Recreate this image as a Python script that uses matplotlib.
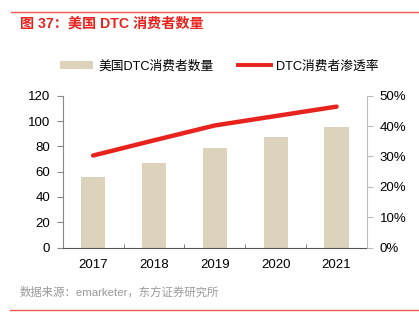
import matplotlib
matplotlib.use("Agg")
import matplotlib.pyplot as plt
from matplotlib.patches import Patch
from matplotlib.lines import Line2D
from matplotlib.ticker import FixedLocator, FuncFormatter

plt.rcParams['font.family'] = ['Liberation Sans', 'Noto Sans CJK SC', 'DejaVu Sans']

# 数据
years = ['2017', '2018', '2019', '2020', '2021']
dtc_users = [56, 67, 79, 87, 95]              # 美国DTC消费者数量
dtc_penetration = [30.3, 35.3, 40.2, 43.3, 46.4]  # DTC消费者渗透率 (%)
left_ticks = [0, 20, 40, 60, 80, 100, 120]
right_ticks = [0, 10, 20, 30, 40, 50]

RED = '#E8231E'
BAR = '#DDD3BC'

fig = plt.figure(figsize=(4.19, 3.31), dpi=100)
W, H = 419, 331

# 顶部/底部红线
fig.add_artist(Line2D([11 / W, 1], [1 - 12 / H, 1 - 12 / H], color='#EE5A52', lw=1.0))
fig.add_artist(Line2D([10 / W, 1], [1 - 310 / H, 1 - 310 / H], color='#EE5A52', lw=1.0))

fig.text(20 / W, 1 - 23.5 / H, '图 37：美国 DTC 消费者数量', color=RED, fontsize=10.2,
         fontweight='bold', va='center', ha='left')
fig.text(20 / W, 1 - 292 / H, '数据来源：emarketer，东方证券研究所', color='#999999',
         fontsize=8.2, va='center', ha='left')

ax = fig.add_axes([62.7 / W, 1 - 247.5 / H, (367 - 62.7) / W, (247.5 - 95.7) / H])
x = list(range(len(years)))
ax.bar(x, dtc_users, width=0.4, color=BAR, zorder=2)
ax.set_xlim(-0.5, len(years) - 0.5)
ax.set_ylim(0, 120)
ax.set_yticks(left_ticks)
ax.xaxis.set_major_locator(FixedLocator(x))
ax.set_xticklabels(years)
ax.xaxis.set_minor_locator(FixedLocator([i + 0.5 for i in x[:-1]]))
ax.tick_params(axis='x', which='major', length=0, pad=8, labelsize=9.5)
ax.tick_params(axis='x', which='minor', direction='in', length=3, color='#666666')
ax.tick_params(axis='y', length=4, color='#888888', pad=5, labelsize=9.5)
ax.spines['top'].set_visible(False)
ax.spines['right'].set_visible(False)
ax.spines['left'].set_color('#888888')
ax.spines['bottom'].set_color('#555555')

ax2 = ax.twinx()
ax2.plot(x, dtc_penetration, color=RED, lw=3.2, solid_capstyle='round', zorder=3)
ax2.set_ylim(0, 50)
ax2.set_yticks(right_ticks)
ax2.yaxis.set_major_formatter(FuncFormatter(lambda v, p: f'{v:.0f}%'))
ax2.tick_params(axis='y', length=4, color='#BBBBBB', pad=5, labelsize=9.5)
ax2.spines['top'].set_visible(False)
ax2.spines['left'].set_visible(False)
ax2.spines['bottom'].set_visible(False)
ax2.spines['right'].set_color('#BBBBBB')

handles = [Patch(facecolor=BAR, edgecolor='none'), Line2D([], [], color=RED, lw=2.8)]
fig.legend(handles, ['美国DTC消费者数量', 'DTC消费者渗透率'], loc='center',
           bbox_to_anchor=(0.523, 1 - 66 / H), ncol=2, frameon=False, fontsize=9.2,
           handlelength=2.6, handleheight=0.55, handletextpad=0.4, columnspacing=1.9)

fig.savefig('out.png', dpi=100, facecolor='white')
